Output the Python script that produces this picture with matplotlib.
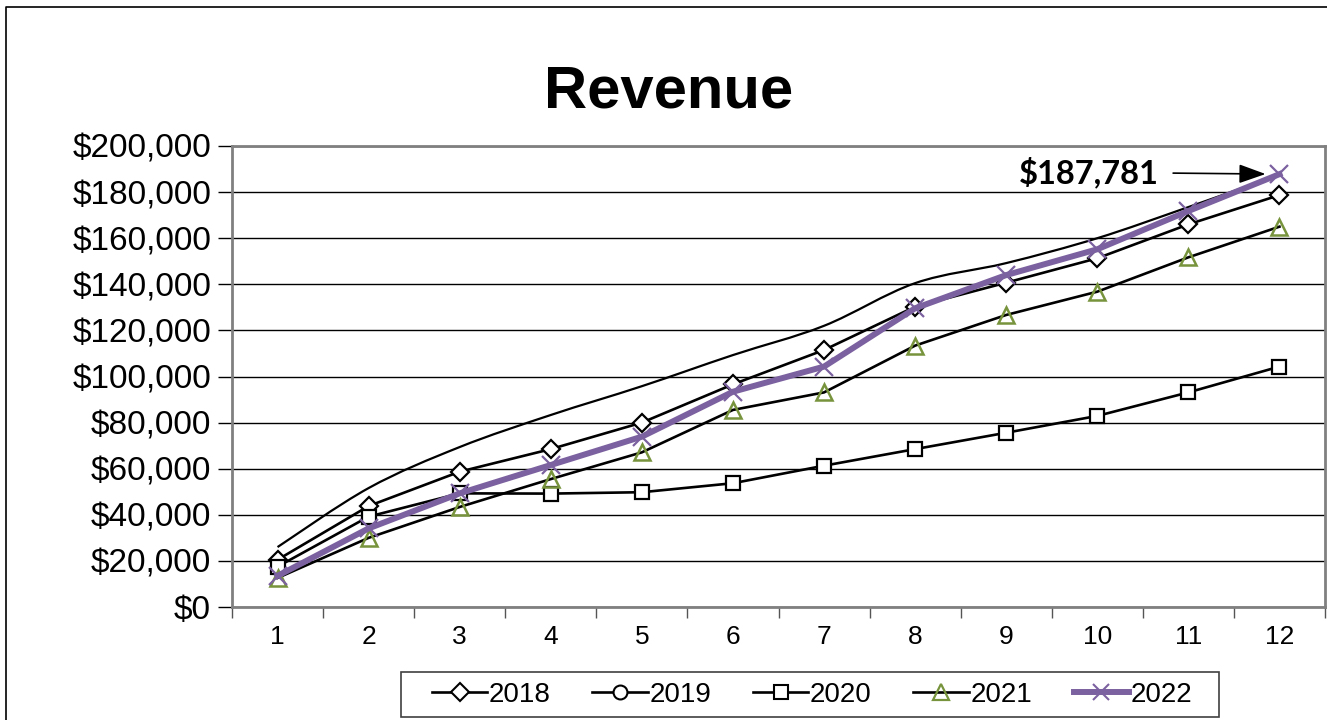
import matplotlib
matplotlib.use("Agg")
import matplotlib.pyplot as plt
from matplotlib.lines import Line2D
from matplotlib.path import Path
from matplotlib.patches import PathPatch, Rectangle
from matplotlib.ticker import FuncFormatter, FixedLocator, NullFormatter
import numpy as np

months = list(range(1, 13))
rev_2018 = [20500, 43800, 58700, 68500, 80000, 96600, 111500, 130300, 140700, 151300, 166000, 178700]
rev_2019 = [26000, 51600, 69400, 83300, 95800, 109300, 122000, 140500, 149200, 160000, 173500, 187500]
rev_2020 = [17500, 39200, 49300, 49200, 49800, 53700, 61300, 68500, 75600, 82900, 93100, 104300]
rev_2021 = [12600, 30000, 43400, 55500, 67100, 85500, 93100, 113400, 126700, 136800, 151700, 165000]
rev_2022 = [13500, 34100, 49300, 61600, 73900, 93400, 104300, 129600, 144000, 155200, 171800, 187781]
series_names = ["2018", "2019", "2020", "2021", "2022"]
y_ticks = list(range(0, 200001, 20000))
title = "Revenue"
callout = "$187,781"

GREEN = "#77933C"
PURPLE = "#7B619F"

plt.rcParams["font.family"] = ["Liberation Sans", "DejaVu Sans"]

fig = plt.figure(figsize=(13.27, 7.2), dpi=100)
ax = fig.add_axes([232 / 1327, 113 / 720, 1093 / 1327, 461 / 720])

# outer chart-area border (top and left visible)
fig.add_artist(Line2D([6 / 1327, 6 / 1327, 1.0], [0.0, 1 - 7 / 720, 1 - 7 / 720],
                      transform=fig.transFigure, color="black", lw=1.2))

ax.set_xlim(0.5, 12.5)
ax.set_ylim(0, 200000)

# gridlines
ax.yaxis.grid(True, color="black", lw=1.0)
ax.set_axisbelow(True)

for s in ax.spines.values():
    s.set_color("#808080")
    s.set_linewidth(2)

# 2019: smooth line (Bezier through the data points), no markers
x = np.array(months, dtype=float)
y = np.array(rev_2019, dtype=float)
verts = [(x[0], y[0])]
codes = [Path.MOVETO]
n = len(x)
for i in range(n - 1):
    p0 = np.array([x[max(i - 1, 0)], y[max(i - 1, 0)]])
    p1 = np.array([x[i], y[i]])
    p2 = np.array([x[i + 1], y[i + 1]])
    p3 = np.array([x[min(i + 2, n - 1)], y[min(i + 2, n - 1)]])
    c1 = p1 + (p2 - p0) / 6.0
    c2 = p2 - (p3 - p1) / 6.0
    verts += [tuple(c1), tuple(c2), tuple(p2)]
    codes += [Path.CURVE4, Path.CURVE4, Path.CURVE4]
ax.add_patch(PathPatch(Path(verts, codes), facecolor="none", edgecolor="black", lw=1.6, zorder=3))

ax.plot(months, rev_2018, color="black", lw=1.9, marker="D", ms=9, mfc="white", mec="black", mew=1.6, zorder=4)
ax.plot(months, rev_2020, color="black", lw=1.9, marker="s", ms=10, mfc="white", mec="black", mew=1.6, zorder=4)
ax.plot(months, rev_2021, color="black", lw=1.9, marker="^", ms=11, mfc="none", mec=GREEN, mew=1.8, zorder=4)
ax.plot(months, rev_2022, color=PURPLE, lw=4.3, marker="x", ms=13, mec=PURPLE, mew=1.6, zorder=5)

# ticks
ax.set_yticks(y_ticks)
ax.yaxis.set_major_formatter(FuncFormatter(lambda v, p: "${:,.0f}".format(v)))
ax.tick_params(axis="y", direction="out", length=10, width=1, color="black", labelsize=24, pad=5)

ax.xaxis.set_major_locator(FixedLocator(np.arange(0.5, 12.6, 1.0)))
ax.xaxis.set_major_formatter(NullFormatter())
ax.xaxis.set_minor_locator(FixedLocator(months))
ax.set_xticklabels([str(m) for m in months], minor=True)
ax.tick_params(axis="x", which="major", direction="out", length=8, width=1, color="#555555")
ax.tick_params(axis="x", which="minor", length=0, labelsize=19, pad=13)

fig.text((545 + 793) / 2 / 1327, 1 - 92 / 720, title, ha="center", va="center",
         fontsize=43, fontweight="bold")

ax.annotate(callout, xy=(12, rev_2022[-1]), xytext=(10.68, 188600),
            ha="right", va="center", fontsize=23.5, fontweight="bold",
            family=["Lato", "DejaVu Sans"],
            arrowprops=dict(arrowstyle="-|>,head_length=0.7,head_width=0.25", color="black",
                            lw=1.2, shrinkA=8, shrinkB=10), zorder=6)

handles = [
    Line2D([], [], color="black", lw=1.9, marker="D", ms=9, mfc="white", mec="black", mew=1.5),
    Line2D([], [], color="black", lw=1.9, marker="o", ms=10, mfc="white", mec="black", mew=1.5),
    Line2D([], [], color="black", lw=1.9, marker="s", ms=10, mfc="white", mec="black", mew=1.5),
    Line2D([], [], color="black", lw=1.9, marker="^", ms=11, mfc="none", mec=GREEN, mew=1.6),
    Line2D([], [], color=PURPLE, lw=4.3, marker="x", ms=12, mec=PURPLE, mew=1.5),
]
# legend frame drawn separately
fig.add_artist(Rectangle((401 / 1327, 1 - 717 / 720), 818 / 1327, 45 / 720,
                         transform=fig.transFigure, facecolor="white", edgecolor="#404040",
                         lw=1.2, zorder=1))
leg = fig.legend(handles, series_names, loc="center", bbox_to_anchor=(812 / 1327, 1 - 694.5 / 720),
                 ncol=5, fontsize=20, frameon=False,
                 handlelength=2.0, handletextpad=0.05, columnspacing=1.5, borderpad=0.3,
                 borderaxespad=0)
leg.set_zorder(2)

fig.savefig("out.png", dpi=100)
